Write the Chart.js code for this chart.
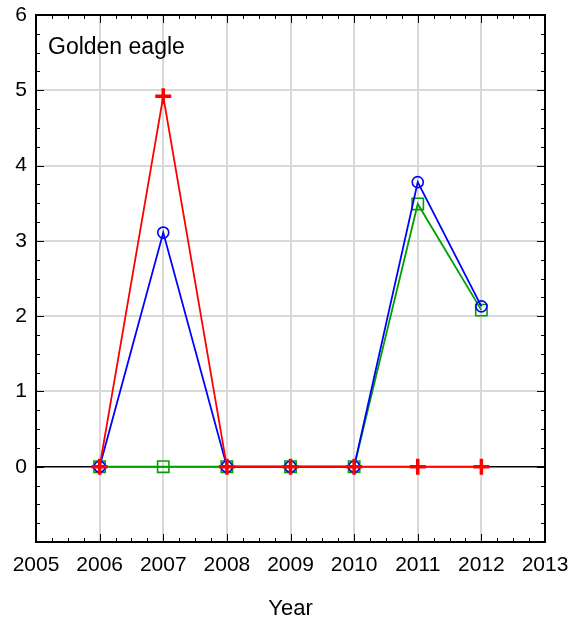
<!DOCTYPE html>
<html>
<head>
<meta charset="utf-8">
<script src="https://cdn.jsdelivr.net/npm/chart.js@4.4.1/dist/chart.umd.min.js"></script>
<style>
  html, body { margin: 0; padding: 0; background: #fff; }
  #wrap { width: 582px; height: 619px; }
</style>
</head>
<body>
<div id="wrap"><canvas id="eagleChart" width="582" height="619"></canvas></div>
<script>
// values
const years = [2006, 2007, 2008, 2009, 2010, 2011, 2012];
const redValues = [0, 4.92, 0, 0, 0, 0, 0];
const blueValues = [0, 3.11, 0, 0, 0, 3.78, 2.13];
const greenValues = [0, 0, 0, 0, 0, 3.49, 2.08];
const panelLabel = 'Golden eagle';
const xTitle = 'Year';

const FONT = '"Liberation Sans", Arial, sans-serif';
const FONT_SIZE = 21;

const toPoints = vals => vals.map((v, i) => ({ x: years[i], y: v }));

// frame, inward ticks (major + quarter minor) and the panel label
const framePlugin = {
    id: 'frame',
    afterDraw(chart) {
        const ctx = chart.ctx;
        const { left, right, top, bottom } = chart.chartArea;
        const xs = chart.scales.x;
        const ys = chart.scales.y;
        ctx.save();
        ctx.strokeStyle = '#000';
        ctx.lineWidth = 1;
        for (let v = xs.min; v <= xs.max + 1e-9; v += 0.25) {
            const px = Math.round(xs.getPixelForValue(v)) + 0.5;
            const len = Math.abs(v - Math.round(v)) < 1e-9 ? 8 : 4;
            ctx.beginPath();
            ctx.moveTo(px, bottom); ctx.lineTo(px, bottom - len);
            ctx.moveTo(px, top); ctx.lineTo(px, top + len);
            ctx.stroke();
        }
        for (let v = ys.min; v <= ys.max + 1e-9; v += 0.25) {
            const py = Math.round(ys.getPixelForValue(v)) + 0.5;
            const len = Math.abs(v - Math.round(v)) < 1e-9 ? 8 : 4;
            ctx.beginPath();
            ctx.moveTo(left, py); ctx.lineTo(left + len, py);
            ctx.moveTo(right, py); ctx.lineTo(right - len, py);
            ctx.stroke();
        }
        ctx.lineWidth = 2;
        ctx.strokeRect(left, top, right - left, bottom - top);
        ctx.fillStyle = '#000';
        ctx.font = '23px ' + FONT;
        ctx.textBaseline = 'middle';
        ctx.textAlign = 'left';
        ctx.fillText(panelLabel, left + 12, top + 33);
        ctx.restore();
    }
};

const canvas = document.getElementById('eagleChart');
const context = canvas.getContext('2d');

new Chart(context, {
    type: 'line',
    data: {
        datasets: [
            {
                label: 'green',
                data: toPoints(greenValues),
                borderColor: '#00a000',
                backgroundColor: 'rgba(0,0,0,0)',
                borderWidth: 1.8,
                pointStyle: 'rect',
                pointRadius: 8,
                pointBorderWidth: 1.6,
                order: 3
            },
            {
                label: 'blue',
                data: toPoints(blueValues),
                borderColor: '#0000ff',
                backgroundColor: 'rgba(0,0,0,0)',
                borderWidth: 1.8,
                pointStyle: 'circle',
                pointRadius: 5.5,
                pointBorderWidth: 1.6,
                order: 2
            },
            {
                label: 'red',
                data: toPoints(redValues),
                borderColor: '#ff0000',
                backgroundColor: 'rgba(0,0,0,0)',
                borderWidth: 1.8,
                pointStyle: 'cross',
                pointRadius: 8,
                pointBorderWidth: 3.5,
                order: 1
            }
        ]
    },
    options: {
        responsive: false,
        animation: false,
        layout: { padding: { left: 0, right: 37, top: 15, bottom: 0 } },
        plugins: {
            legend: { display: false },
            tooltip: { enabled: false }
        },
        elements: { line: { tension: 0 } },
        scales: {
            x: {
                type: 'linear',
                min: 2005,
                max: 2013,
                afterFit: scale => {
                    scale.height = 77;
                    scale.paddingLeft = 0;
                    scale.paddingRight = 0;
                },
                ticks: {
                    stepSize: 1,
                    padding: 11,
                    color: '#000',
                    font: { family: FONT, size: FONT_SIZE },
                    callback: v => String(v)
                },
                grid: {
                    color: '#d9d9d9',
                    lineWidth: 2,
                    drawTicks: false
                },
                border: { display: false },
                title: {
                    display: true,
                    text: xTitle,
                    color: '#000',
                    font: { family: FONT, size: 22 },
                    padding: { top: 10, bottom: -3 }
                }
            },
            y: {
                min: -1,
                max: 6,
                afterFit: scale => {
                    scale.width = 36;
                    scale.paddingTop = 0;
                    scale.paddingBottom = 0;
                },
                ticks: {
                    stepSize: 1,
                    padding: 9,
                    color: '#000',
                    font: { family: FONT, size: FONT_SIZE },
                    callback: v => (v < 0 ? '' : String(v))
                },
                grid: {
                    color: ctx => (ctx.tick && ctx.tick.value === 0 ? '#000' : '#d9d9d9'),
                    lineWidth: ctx => (ctx.tick && ctx.tick.value === 0 ? 1.5 : 2),
                    drawTicks: false
                },
                border: { display: false }
            }
        }
    },
    plugins: [framePlugin]
});
</script>
</body>
</html>
